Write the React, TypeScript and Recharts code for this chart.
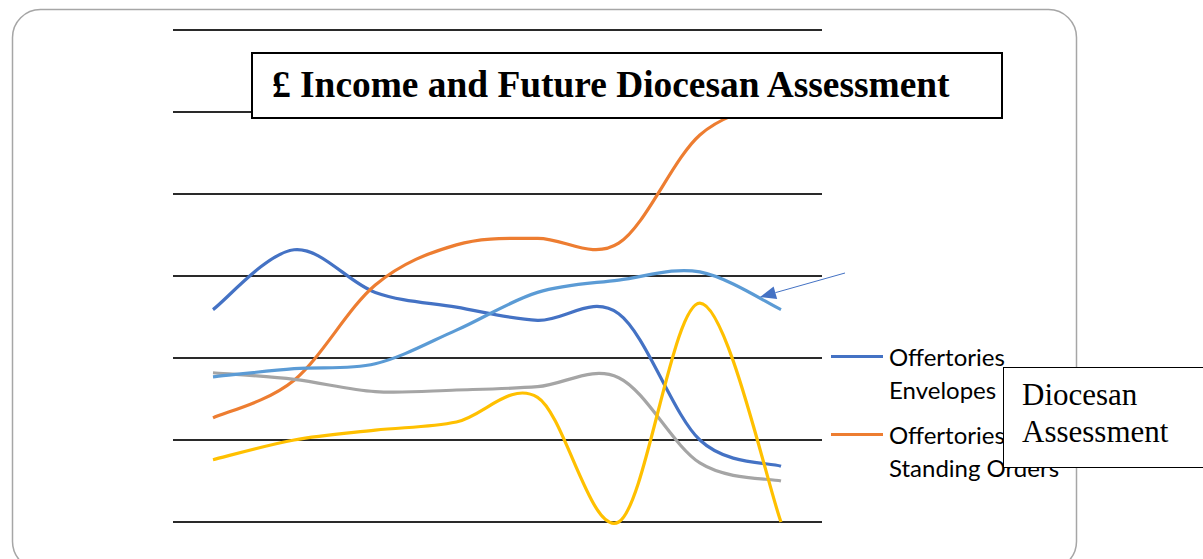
import React from 'react';
import { LineChart, Line, XAxis, YAxis, CartesianGrid, Legend } from 'recharts';

// values (no axis labels shown in the original)
const categories = ['2013', '2014', '2015', '2016', '2017', '2018', '2019', '2020'];
const envelopes = [25900, 33200, 28000, 26200, 24600, 25400, 10000, 6800];
const standingOrders = [12700, 17300, 28900, 33800, 34600, 34000, 47200, 51500];
const giftAid = [18200, 17400, 15900, 16100, 16500, 17600, 7200, 5000];
const otherIncome = [7600, 10000, 11200, 12200, 15200, 0, 26700, 0];
const assessment = [17700, 18700, 19300, 23400, 28000, 29500, 30500, 25900];
const yTicks = [0, 10000, 20000, 30000, 40000, 50000, 60000];

const data = categories.map((c, i) => ({
  year: c,
  envelopes: envelopes[i],
  standingOrders: standingOrders[i],
  giftAid: giftAid[i],
  otherIncome: otherIncome[i],
  assessment: assessment[i],
}));

// Excel-style smoothed line (Catmull-Rom through every point)
const smoothCurve = (context: any) => {
  let pts: number[][] = [];
  return {
    areaStart() {},
    areaEnd() {},
    lineStart() {
      pts = [];
    },
    point(x: number, y: number) {
      pts.push([+x, +y]);
    },
    lineEnd() {
      if (!pts.length) return;
      context.moveTo(pts[0][0], pts[0][1]);
      for (let i = 0; i < pts.length - 1; i++) {
        const p0 = pts[i - 1] || pts[i];
        const p1 = pts[i];
        const p2 = pts[i + 1];
        const p3 = pts[i + 2] || pts[i + 1];
        context.bezierCurveTo(
          p1[0] + (p2[0] - p0[0]) / 6,
          p1[1] + (p2[1] - p0[1]) / 6,
          p2[0] - (p3[0] - p1[0]) / 6,
          p2[1] - (p3[1] - p1[1]) / 6,
          p2[0],
          p2[1]
        );
      }
    },
  };
};

const shownInLegend = ['Offertories Envelopes', 'Offertories Standing Orders'];

const renderLegend = (props: any) => {
  const items = (props.payload || []).filter((p: any) => shownInLegend.includes(p.value));
  return (
    <div>
      {items.map((p: any) => (
        <div key={p.value} style={{ display: 'flex', alignItems: 'flex-start', marginBottom: 12 }}>
          <div style={{ width: 52, height: 3, background: p.color, marginTop: 15, flex: 'none' }} />
          <div
            style={{
              marginLeft: 6,
              width: 195,
              fontFamily: 'Lato, sans-serif',
              fontSize: 24,
              lineHeight: '33px',
              color: '#000',
            }}
          >
            {p.value}
          </div>
        </div>
      ))}
    </div>
  );
};

const arrowHead = (sx: number, sy: number, tx: number, ty: number, len: number, half: number) => {
  const d = Math.hypot(tx - sx, ty - sy);
  const ux = (tx - sx) / d;
  const uy = (ty - sy) / d;
  const bx = tx - ux * len;
  const by = ty - uy * len;
  return {
    pts: `${tx},${ty} ${bx - uy * half},${by + ux * half} ${bx + uy * half},${by - ux * half}`,
    bx,
    by,
  };
};

const App: React.FC = () => {
  const head = arrowHead(845, 273, 760, 297, 16, 6.5);
  return (
    <div style={{ position: 'absolute', left: 0, top: 0, width: 1203, height: 559, background: '#fff', overflow: 'hidden' }}>
      <LineChart
        width={1203}
        height={559}
        data={data}
        margin={{ top: 30, right: 381, bottom: 37, left: 173 }}
      >
        <CartesianGrid vertical={false} stroke="#2a2a2a" strokeWidth={2} />
        <XAxis dataKey="year" hide padding={{ left: 40, right: 41 }} />
        <YAxis hide domain={[0, 60000]} ticks={yTicks} />
        <Legend
          layout="vertical"
          align="center"
          verticalAlign="middle"
          content={renderLegend}
          wrapperStyle={{ left: 831, top: 340, width: 260 }}
        />
        <Line name="Offertories Envelopes" dataKey="envelopes" type={smoothCurve as any} stroke="#4472C4" strokeWidth={3.2} dot={false} isAnimationActive={false} />
        <Line name="Offertories Standing Orders" dataKey="standingOrders" type={smoothCurve as any} stroke="#ED7D31" strokeWidth={3.2} dot={false} isAnimationActive={false} />
        <Line name="Gift Aid" dataKey="giftAid" type={smoothCurve as any} stroke="#A5A5A5" strokeWidth={3.2} dot={false} isAnimationActive={false} />
        <Line name="Other Income" dataKey="otherIncome" type={smoothCurve as any} stroke="#FFC000" strokeWidth={3.2} dot={false} isAnimationActive={false} />
        <Line name="Diocesan Assessment" dataKey="assessment" type={smoothCurve as any} stroke="#5B9BD5" strokeWidth={3.2} dot={false} isAnimationActive={false} />
      </LineChart>

      <svg width={1203} height={559} style={{ position: 'absolute', left: 0, top: 0, pointerEvents: 'none' }}>
        <rect x={12.5} y={9.5} width={1064} height={560} rx={28} fill="none" stroke="#a6a6a6" strokeWidth={1.5} />

        <rect x={252} y={53} width={750} height={65} fill="#fff" stroke="#000" strokeWidth={2} />
        <text x={272} y={96.5} fontFamily="'Liberation Serif', serif" fontWeight="bold" fontSize={37.4} fill="#000">
          £ Income and Future Diocesan Assessment
        </text>

        <rect x={1003.5} y={367.5} width={230} height={100} fill="#fff" stroke="#000" strokeWidth={1} />
        <text fontFamily="'Liberation Serif', serif" fontSize={31} fill="#000">
          <tspan x={1022} y={405}>Diocesan</tspan>
          <tspan x={1022} y={442}>Assessment</tspan>
        </text>

        <line x1={845} y1={273} x2={head.bx} y2={head.by} stroke="#4472C4" strokeWidth={1} />
        <polygon points={head.pts} fill="#4472C4" />
      </svg>
    </div>
  );
};

export default App;
